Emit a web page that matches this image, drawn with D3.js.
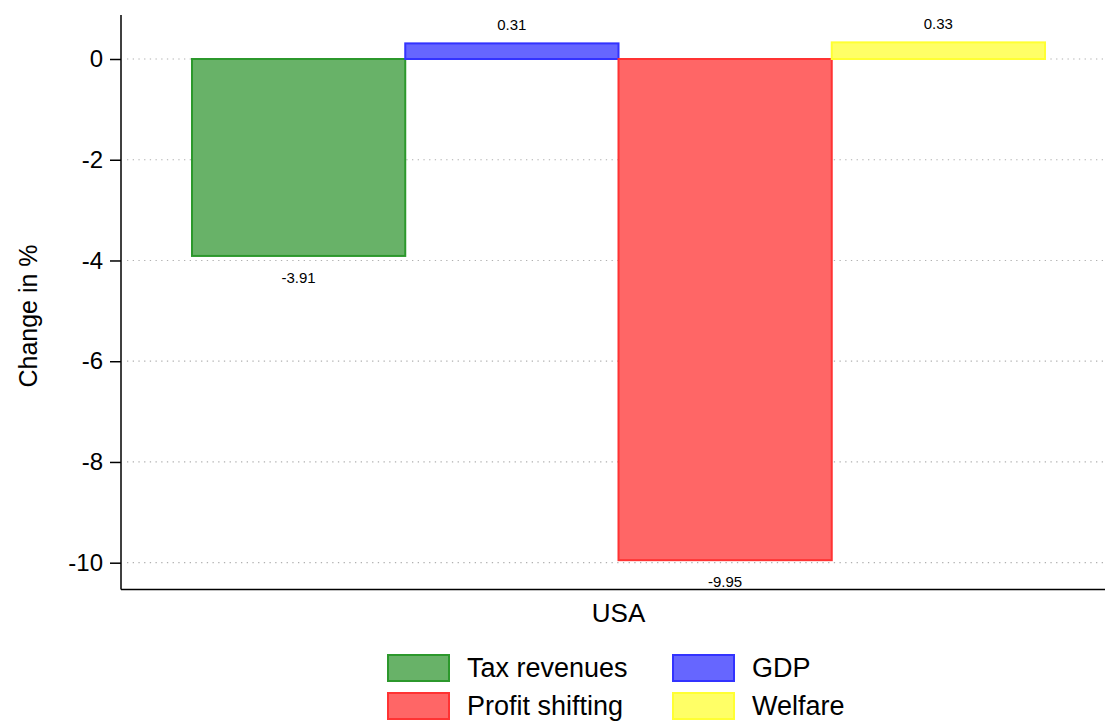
<!DOCTYPE html>
<html><head><meta charset="utf-8">
<script src="https://cdn.jsdelivr.net/npm/d3@7"></script>
<style>body{margin:0;background:#fff;font-family:"Liberation Sans",Arial,Helvetica,sans-serif;}</style>
</head><body>
<svg id="c" width="1105" height="724"></svg>
<script>
const categories = ["USA"];
const seriesNames = ["Tax revenues", "GDP", "Profit shifting", "Welfare"];
const seriesValues = [-3.91, 0.31, -9.95, 0.33];
const valueLabels = ["-3.91", "0.31", "-9.95", "0.33"];
const yTicks = [0, -2, -4, -6, -8, -10];
const fills = ["rgb(104,178,104)", "rgb(102,102,255)", "rgb(255,102,102)", "rgb(255,255,102)"];
const strokes = ["rgb(44,152,44)", "rgb(51,51,255)", "rgb(255,51,51)", "rgb(255,255,51)"];

const svg = d3.select("#c");
const pL = 121, pR = 1105, pT = 15, pB = 589.5;
const y = d3.scaleLinear().domain([-10, 0]).range([562.7, 59]);
const x = d3.scaleBand().domain(categories).range([192, 1045]);
const xs = d3.scaleBand().domain(seriesNames).range([0, x.bandwidth()]);

// gridlines
svg.append("g").selectAll("line").data(yTicks).join("line")
  .attr("x1", pL + 6).attr("x2", pR)
  .attr("y1", d => y(d)).attr("y2", d => y(d))
  .attr("stroke", "#b0b0b0").attr("stroke-width", 1.2).attr("stroke-dasharray", "1.3,4.4");

// y axis
const yAxis = d3.axisLeft(y).tickValues(yTicks).tickSize(11).tickPadding(7).tickFormat(d => String(d));
const gy = svg.append("g").attr("transform", `translate(${pL},0)`).call(yAxis);
gy.select(".domain").remove();
gy.selectAll(".tick line").attr("stroke", "#000").attr("stroke-width", 1.5);
gy.selectAll(".tick text").attr("font-size", 24).attr("fill", "#000").attr("font-family", "Liberation Sans, Arial, sans-serif");
svg.append("line").attr("x1", pL).attr("x2", pL).attr("y1", pT).attr("y2", pB).attr("stroke", "#000").attr("stroke-width", 1.5);

// x axis
svg.append("line").attr("x1", pL).attr("x2", pR).attr("y1", pB).attr("y2", pB).attr("stroke", "#000").attr("stroke-width", 1.5);
svg.append("g").selectAll("text").data(categories).join("text")
  .attr("x", d => x(d) + x.bandwidth() / 2).attr("y", 622)
  .attr("text-anchor", "middle").attr("font-size", 26).text(d => d);

// bars
const data = seriesNames.map((s, i) => ({s, v: seriesValues[i], lab: valueLabels[i], i, c: categories[0]}));
svg.append("g").selectAll("rect").data(data).join("rect")
  .attr("x", d => x(d.c) + xs(d.s)).attr("width", xs.bandwidth())
  .attr("y", d => y(Math.max(0, d.v))).attr("height", d => Math.abs(y(d.v) - y(0)))
  .attr("fill", d => fills[d.i]).attr("stroke", d => strokes[d.i]).attr("stroke-width", 2);

svg.append("g").selectAll("text").data(data).join("text")
  .attr("x", d => x(d.c) + xs(d.s) + xs.bandwidth() / 2)
  .attr("y", d => d.v >= 0 ? y(d.v) - 13 : y(d.v) + 27)
  .attr("text-anchor", "middle").attr("font-size", 15).text(d => d.lab);

// y title
svg.append("text").attr("transform", "translate(37,316) rotate(-90)")
  .attr("text-anchor", "middle").attr("font-size", 25).text("Change in %");

// legend
const lg = svg.append("g");
const lpos = [[388, 655], [673, 655], [388, 693], [673, 693]];
seriesNames.forEach((name, i) => {
  const [lx, ly] = lpos[i];
  lg.append("rect").attr("x", lx).attr("y", ly).attr("width", 61).attr("height", 26)
    .attr("fill", fills[i]).attr("stroke", strokes[i]).attr("stroke-width", 2);
  lg.append("text").attr("x", lx + 79).attr("y", ly + 22).attr("font-size", 27).text(name);
});
</script>
</body></html>
